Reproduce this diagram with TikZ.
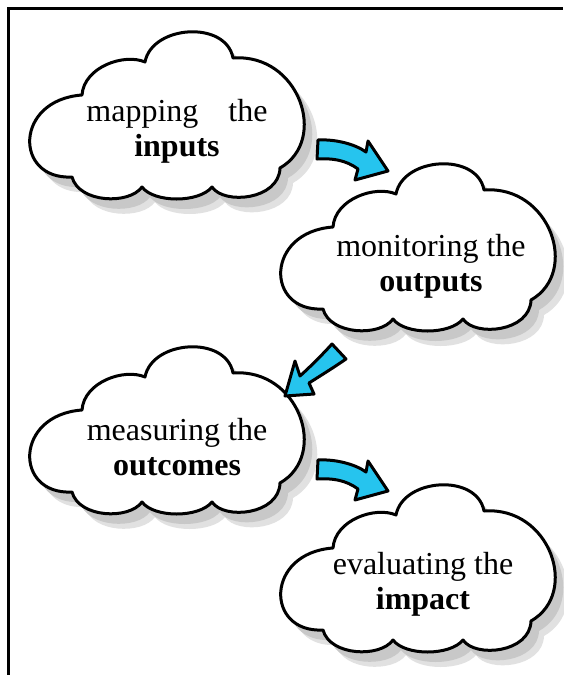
\documentclass[tikz,border=0pt]{standalone}
\usepackage{fontspec}
\setmainfont{Liberation Serif}

\definecolor{skyblue}{RGB}{38,196,238}
\definecolor{shadowgrey}{RGB}{200,200,200}

\tikzstyle{outline} = [draw=black, line width=3pt, line join=round]
\tikzstyle{cloudtext} = [align=center, inner sep=0pt,
                         font=\fontsize{32}{35}\selectfont]

% one cloud, centred on (0,0), sizes in px
\def\cloudpath{(-82,-20) .. controls (-80,-48) and (-40,-62) .. (-19,-53)
  .. controls (-12,-90) and (62,-95) .. (69,-57)
  .. controls (135,-62) and (165,25) .. (116,53)
  .. controls (115,85) and (60,90) .. (48,72)
  .. controls (35,88) and (-10,88) .. (-22,72)
  .. controls (-35,90) and (-85,88) .. (-92,62)
  .. controls (-150,65) and (-150,-15) .. (-82,-20) -- cycle}

% the bent arrow pointing down right
\def\bendarrow{(318,140) .. controls (335,139) and (355,144) .. (366,152)
  -- (368,141) -- (388,171) -- (355,180) -- (358,169)
  .. controls (346,160) and (332,158) .. (317,159) -- cycle}

\tikzset{cloudshape/.pic={
  \fill[shadowgrey!55, shift={(13,15)}] \cloudpath;
  \fill[shadowgrey, shift={(8,10)}] \cloudpath;
  \path[outline, fill=white] \cloudpath;
}}

\begin{document}
\begin{tikzpicture}[x=1pt, y=-1pt]

\def\colA{skyblue};

\useasboundingbox (0,0) rectangle (563,675);
\fill[white] (0,0) rectangle (563,675);

% frame
\draw[line width=3pt] (8,675) -- (8,8) -- (563,8);

% clouds
\pic at (164,115) {cloudshape};
\pic at (415,247) {cloudshape};
\pic at (164,430) {cloudshape};
\pic at (415,568) {cloudshape};

\node at (177,131)[cloudtext]
      (inputs) {mapping\hspace{30pt}the\\\textbf{inputs}};

\node at (431,266)[cloudtext]
      (outputs) {monitoring the\\\textbf{outputs}};

\node at (177,447)[cloudtext]
      (outcomes) {measuring the\\\textbf{outcomes}};

\node at (423,584)[cloudtext]
      (impact) {evaluating the\\\textbf{impact}};

% arrows
\path[outline, fill=\colA] \bendarrow;

\path[outline, fill=\colA]
      (332,344) -- (346,359)
      .. controls (333,368) and (320,376) .. (309,383)
      -- (314,394) -- (285,396) -- (295,361) -- (300,376)
      .. controls (311,366) and (322,355) .. (332,344) -- cycle;

\path[outline, fill=\colA, shift={(0,320)}] \bendarrow;

\end{tikzpicture}
\end{document}
